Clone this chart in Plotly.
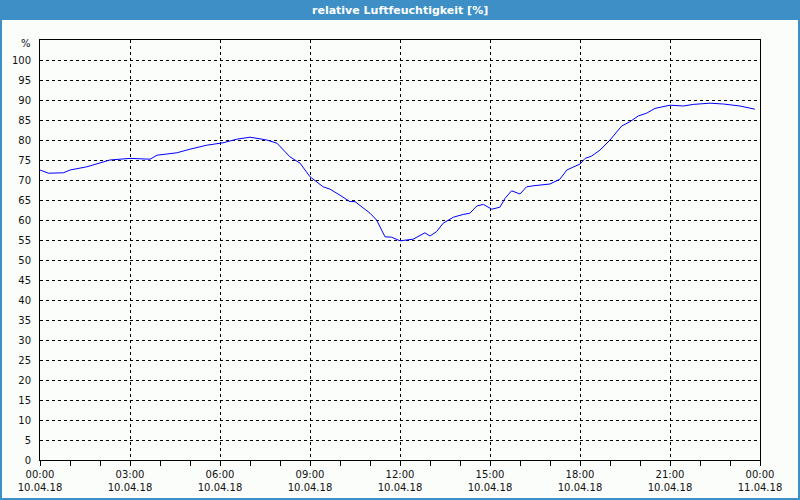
import plotly.graph_objects as go

# time in hours since 10.04.18 00:00
hours = [0, 0.28, 0.78, 1.0, 1.56, 2.0, 2.33, 3.0, 3.67, 3.9, 4.56, 5.0, 5.56, 6.1, 6.56, 7.0,
         7.56, 7.9, 8.33, 8.67, 9.0, 9.44, 9.67, 10.0, 10.33, 10.5, 11.0, 11.22, 11.5, 11.72,
         12.0, 12.44, 12.83, 13.0, 13.22, 13.44, 13.78, 14.11, 14.33, 14.56, 14.78, 15.06,
         15.33, 15.5, 15.72, 16.0, 16.22, 16.5, 17.0, 17.33, 17.56, 18.0, 18.17, 18.39, 18.67,
         19.0, 19.39, 19.67, 19.94, 20.22, 20.5, 21.0, 21.44, 21.78, 22.33, 22.78, 23.33, 23.83]
humidity = [72.5, 71.7, 71.8, 72.5, 73.3, 74.2, 75.0, 75.4, 75.2, 76.2, 76.8, 77.7, 78.7, 79.3,
            80.2, 80.7, 80.0, 79.2, 75.8, 74.2, 70.8, 68.3, 67.7, 66.2, 64.6, 64.6, 61.7, 60.0,
            55.8, 55.7, 54.8, 55.2, 56.8, 56.0, 57.1, 59.2, 60.7, 61.4, 61.7, 63.5, 63.9, 62.7,
            63.2, 65.4, 67.3, 66.5, 68.3, 68.6, 69.0, 70.2, 72.5, 74.0, 75.4, 76.0, 77.5, 80.0,
            83.5, 84.6, 86.0, 86.7, 87.9, 88.7, 88.5, 88.9, 89.2, 89.0, 88.5, 87.7]

x_tick_vals = [0, 3, 6, 9, 12, 15, 18, 21, 24]
x_tick_times = ["00:00", "03:00", "06:00", "09:00", "12:00", "15:00", "18:00", "21:00", "00:00"]
x_tick_dates = ["10.04.18"] * 8 + ["11.04.18"]
y_tick_vals = list(range(0, 101, 5))

title_text = "relative Luftfeuchtigkeit [%]"
unit_text = "%"

BLUE = "#3d8fc6"
PANEL = "#fbfdfb"
FONT = "DejaVu Sans"

fig = go.Figure()
fig.add_trace(go.Scatter(x=hours, y=humidity, mode="lines",
                         line=dict(color="#0000ff", width=1), hoverinfo="skip"))

W, H = 800, 500
L, R, T, B = 40, 40, 40, 40
pw, ph = W - L - R, H - T - B


def px_x(p):
    return (p - L) / pw


def px_y(p):
    return (H - B - p) / ph


fig.add_shape(type="rect", xref="paper", yref="paper", layer="below",
              x0=px_x(2), x1=px_x(798), y0=px_y(20), y1=px_y(498),
              fillcolor=PANEL, line=dict(width=0))

fig.add_annotation(text="<b>" + title_text + "</b>", xref="paper", yref="paper",
                   x=px_x(400), y=px_y(10), showarrow=False,
                   font=dict(family=FONT, size=11, color="white"),
                   xanchor="center", yanchor="middle")
fig.add_annotation(text=unit_text, xref="paper", yref="paper",
                   x=px_x(33), y=px_y(44), showarrow=False,
                   font=dict(family=FONT, size=10, color="#111111"),
                   xanchor="right", yanchor="middle")

fig.update_layout(
    width=W, height=H,
    margin=dict(l=L, r=R, t=T, b=B, autoexpand=False),
    paper_bgcolor=BLUE, plot_bgcolor=PANEL,
    showlegend=False,
    font=dict(family=FONT, size=10, color="#111111"),
)
fig.update_xaxes(
    range=[0, 24], automargin=False,
    tickvals=x_tick_vals,
    ticktext=[f"{t}<br>{d}" for t, d in zip(x_tick_times, x_tick_dates)],
    showgrid=True, gridcolor="black", griddash="3px,3px", gridwidth=1,
    showline=True, linecolor="black", linewidth=1, mirror=True,
    ticks="", zeroline=False,
    minor=dict(dtick=1, ticks="outside", ticklen=5, tickcolor="black", showgrid=False),
    tickfont=dict(family=FONT, size=10, color="#111111"),
    ticklabelstandoff=5,
)
fig.update_yaxes(
    range=[0, 105], automargin=False,
    tickvals=y_tick_vals,
    showgrid=True, gridcolor="black", griddash="3px,3px", gridwidth=1,
    showline=True, linecolor="black", linewidth=1, mirror=True,
    ticks="", zeroline=False,
    tickfont=dict(family=FONT, size=10, color="#111111"),
    ticklabelstandoff=6,
)

fig.write_html("out.html")
